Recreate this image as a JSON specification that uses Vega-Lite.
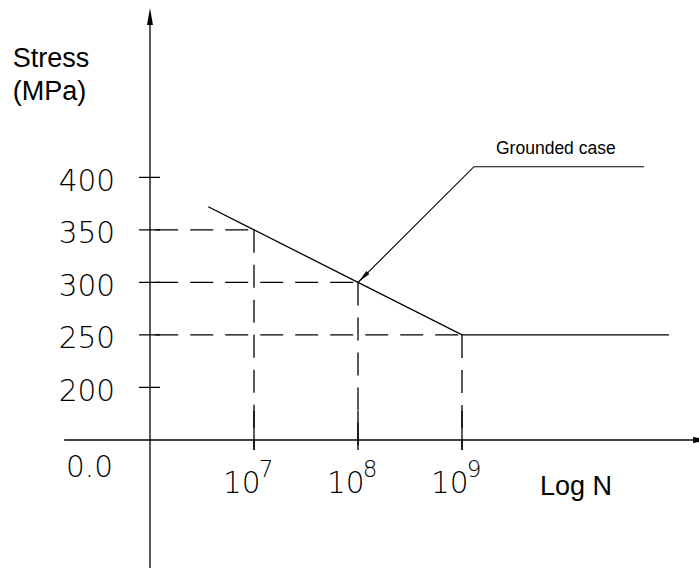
{
  "$schema": "https://vega.github.io/schema/vega-lite/v6.json",
  "width": 699,
  "height": 569,
  "autosize": {"type": "none"},
  "padding": 0,
  "background": "white",
  "config": {"view": {"stroke": null}},
  "datasets": {
    "rules": [
      {"x": 6, "x2": 6, "y": 28.2, "y2": 553, "kind": "solid"},
      {"x": 5.175, "x2": 11.24, "y": 150, "y2": 150, "kind": "solid"},
      {"x": 5.894, "x2": 6.096, "y": 400, "y2": 400, "kind": "solid"},
      {"x": 5.894, "x2": 6.096, "y": 350, "y2": 350, "kind": "solid"},
      {"x": 5.894, "x2": 6.096, "y": 300, "y2": 300, "kind": "solid"},
      {"x": 5.894, "x2": 6.096, "y": 250, "y2": 250, "kind": "solid"},
      {"x": 5.894, "x2": 6.096, "y": 200, "y2": 200, "kind": "solid"},
      {"x": 7, "x2": 7, "y": 140.5, "y2": 177.6, "kind": "solid"},
      {"x": 8, "x2": 8, "y": 140.5, "y2": 177.6, "kind": "solid"},
      {"x": 9, "x2": 9, "y": 140.5, "y2": 177.6, "kind": "solid"},
      {"x": 6.05, "x2": 7, "y": 350, "y2": 350, "kind": "dash"},
      {"x": 6.05, "x2": 8, "y": 300, "y2": 300, "kind": "dash"},
      {"x": 6.05, "x2": 9, "y": 250, "y2": 250, "kind": "dash"},
      {"x": 7, "x2": 7, "y": 350, "y2": 140.5, "kind": "dash"},
      {"x": 8, "x2": 8, "y": 300, "y2": 140.5, "kind": "dash"},
      {"x": 9, "x2": 9, "y": 250, "y2": 140.5, "kind": "dash"}
    ],
    "curve": [
      {"logN": 6.56, "stress": 372, "o": 1},
      {"logN": 7, "stress": 350, "o": 2},
      {"logN": 8, "stress": 300, "o": 3},
      {"logN": 9, "stress": 250, "o": 4},
      {"logN": 10.99, "stress": 250, "o": 5}
    ],
    "leader": [
      {"logN": 10.75, "stress": 410.1, "o": 1},
      {"logN": 9.115, "stress": 410.1, "o": 2},
      {"logN": 8, "stress": 300, "o": 3}
    ],
    "ylabels": [
      {"logN": 5.663, "stress": 400, "t": "400"},
      {"logN": 5.663, "stress": 350, "t": "350"},
      {"logN": 5.663, "stress": 300, "t": "300"},
      {"logN": 5.663, "stress": 250, "t": "250"},
      {"logN": 5.663, "stress": 200, "t": "200"}
    ],
    "xlabels": [
      {"logN": 7, "stress": 150, "base": "10", "e": "7"},
      {"logN": 8, "stress": 150, "base": "10", "e": "8"},
      {"logN": 9, "stress": 150, "base": "10", "e": "9"}
    ]
  },
  "layer": [
    {
      "data": {"name": "rules"},
      "mark": {"type": "rule", "color": "black", "strokeWidth": 1.3},
      "encoding": {
        "x": {"field": "x", "type": "quantitative", "scale": {"domain": [4.5577, 11.2788], "nice": false, "zero": false}, "axis": null},
        "x2": {"field": "x2"},
        "y": {"field": "y", "type": "quantitative", "scale": {"domain": [27.23, 568.73], "nice": false, "zero": false}, "axis": null},
        "y2": {"field": "y2"},
        "strokeDash": {"field": "kind", "type": "nominal", "scale": {"domain": ["solid", "dash"], "range": [[1, 0], [23, 12]]}, "legend": null}
      }
    },
    {
      "data": {"name": "curve"},
      "mark": {"type": "line", "color": "black", "strokeWidth": 1.3},
      "encoding": {
        "x": {"field": "logN", "type": "quantitative"},
        "y": {"field": "stress", "type": "quantitative"},
        "order": {"field": "o"}
      }
    },
    {
      "data": {"name": "leader"},
      "mark": {"type": "line", "color": "black", "strokeWidth": 1.1},
      "encoding": {
        "x": {"field": "logN", "type": "quantitative"},
        "y": {"field": "stress", "type": "quantitative"},
        "order": {"field": "o"}
      }
    },
    {
      "data": {"values": [{"logN": 6, "stress": 561}]},
      "mark": {"type": "point", "shape": "M0,0L0.35,2L-0.35,2Z", "size": 289, "filled": true, "color": "black", "opacity": 1},
      "encoding": {
        "x": {"field": "logN", "type": "quantitative"},
        "y": {"field": "stress", "type": "quantitative"}
      }
    },
    {
      "data": {"values": [{"logN": 11.385, "stress": 150}]},
      "mark": {"type": "point", "shape": "M0,0L-2,-0.35L-2,0.35Z", "size": 289, "filled": true, "color": "black", "opacity": 1},
      "encoding": {
        "x": {"field": "logN", "type": "quantitative"},
        "y": {"field": "stress", "type": "quantitative"}
      }
    },
    {
      "data": {"values": [{"logN": 8, "stress": 300}]},
      "mark": {"type": "point", "shape": "M0,0L1.626,-1.202L1.202,-1.626Z", "size": 196, "filled": true, "color": "black", "opacity": 1},
      "encoding": {
        "x": {"field": "logN", "type": "quantitative"},
        "y": {"field": "stress", "type": "quantitative"}
      }
    },
    {
      "data": {"name": "ylabels"},
      "mark": {"type": "text", "font": "DejaVu Sans", "fontWeight": 200, "fontSize": 29.5, "align": "right", "baseline": "alphabetic", "dy": 13.4, "color": "black"},
      "encoding": {
        "x": {"field": "logN", "type": "quantitative"},
        "y": {"field": "stress", "type": "quantitative"},
        "text": {"field": "t"}
      }
    },
    {
      "data": {"values": [{"logN": 5.644, "stress": 150, "t": "0.0"}]},
      "mark": {"type": "text", "font": "DejaVu Sans", "fontWeight": 200, "fontSize": 29.5, "align": "right", "baseline": "alphabetic", "dy": 36.7, "color": "black"},
      "encoding": {
        "x": {"field": "logN", "type": "quantitative"},
        "y": {"field": "stress", "type": "quantitative"},
        "text": {"field": "t"}
      }
    },
    {
      "data": {"name": "xlabels"},
      "mark": {"type": "text", "font": "DejaVu Sans", "fontWeight": 200, "fontSize": 29.5, "align": "right", "baseline": "alphabetic", "dx": 6.5, "dy": 53, "color": "black"},
      "encoding": {
        "x": {"field": "logN", "type": "quantitative"},
        "y": {"field": "stress", "type": "quantitative"},
        "text": {"field": "base"}
      }
    },
    {
      "data": {"name": "xlabels"},
      "mark": {"type": "text", "font": "DejaVu Sans", "fontWeight": 200, "fontSize": 23, "align": "left", "baseline": "alphabetic", "dx": 4.8, "dy": 37, "color": "black"},
      "encoding": {
        "x": {"field": "logN", "type": "quantitative"},
        "y": {"field": "stress", "type": "quantitative"},
        "text": {"field": "e"}
      }
    },
    {
      "data": {"values": [
        {"logN": 4.68, "stress": 505, "t": "Stress"},
        {"logN": 4.68, "stress": 473.6, "t": "(MPa)"},
        {"logN": 9.75, "stress": 97.7, "t": "Log N"}
      ]},
      "mark": {"type": "text", "font": "Liberation Sans", "fontSize": 27, "align": "left", "baseline": "alphabetic", "color": "black"},
      "encoding": {
        "x": {"field": "logN", "type": "quantitative"},
        "y": {"field": "stress", "type": "quantitative"},
        "text": {"field": "t"}
      }
    },
    {
      "data": {"values": [{"logN": 9.327, "stress": 422.2, "t": "Grounded case"}]},
      "mark": {"type": "text", "font": "Liberation Sans", "fontSize": 17.5, "align": "left", "baseline": "alphabetic", "color": "black"},
      "encoding": {
        "x": {"field": "logN", "type": "quantitative"},
        "y": {"field": "stress", "type": "quantitative"},
        "text": {"field": "t"}
      }
    }
  ]
}
